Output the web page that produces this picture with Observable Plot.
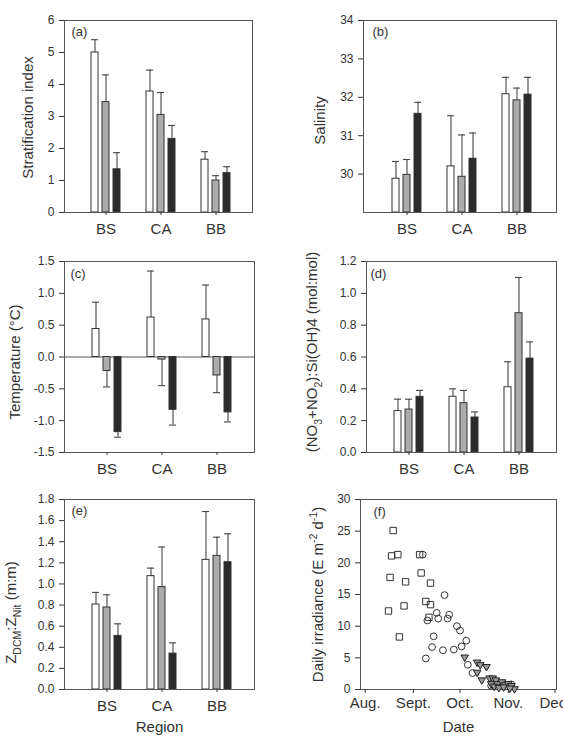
<!DOCTYPE html>
<html><head><meta charset="utf-8">
<script src="https://cdn.jsdelivr.net/npm/d3@7"></script>
<script src="https://cdn.jsdelivr.net/npm/@observablehq/plot@0.6"></script>
<style>
body{margin:0;background:#fff;}
#wrap{position:relative;width:563px;height:737px;overflow:hidden;background:#fff;}
.panel{position:absolute;}
.panel svg{overflow:visible;}
</style></head><body><div id="wrap"></div>
<script>
// ---------- data ----------
const regions = ["BS", "CA", "BB"];
const seriesKeys = ["s1", "s2", "s3"];

// region-major: BS s1,s2,s3, CA s1,s2,s3, BB s1,s2,s3
const stratMean = [5.0, 3.45, 1.35, 3.78, 3.05, 2.3, 1.65, 1.0, 1.23];
const stratSD   = [0.4, 0.85, 0.52, 0.67, 0.7, 0.42, 0.25, 0.15, 0.2];

const salMean = [29.88, 29.98, 31.57, 30.2, 29.93, 30.4, 32.08, 31.92, 32.07];
const salSD   = [0.45, 0.4, 0.3, 1.32, 1.09, 0.67, 0.44, 0.32, 0.45];

const tempMean = [0.44, -0.22, -1.18, 0.62, -0.04, -0.83, 0.59, -0.29, -0.87];
const tempSD   = [0.42, 0.25, 0.08, 0.73, 0.41, 0.24, 0.54, 0.27, 0.15];

const nsMean = [0.26, 0.27, 0.35, 0.35, 0.31, 0.22, 0.41, 0.875, 0.59];
const nsSD   = [0.075, 0.065, 0.04, 0.05, 0.08, 0.035, 0.16, 0.225, 0.105];

const zMean = [0.805, 0.777, 0.508, 1.074, 0.97, 0.34, 1.228, 1.266, 1.206];
const zSD   = [0.115, 0.12, 0.114, 0.076, 0.38, 0.102, 0.458, 0.177, 0.269];

const stratTicks = [0, 1, 2, 3, 4, 5, 6];
const salTicks = [30, 31, 32, 33, 34];
const tempTicks = [-1.5, -1.0, -0.5, 0, 0.5, 1.0, 1.5];
const nsTicks = [0, 0.2, 0.4, 0.6, 0.8, 1.0, 1.2];
const zTicks = [0, 0.2, 0.4, 0.6, 0.8, 1.0, 1.2, 1.4, 1.6, 1.8];
const irrTicks = [0, 5, 10, 15, 20, 25, 30];

// panel (f): daily irradiance
const squareDates = ["2005-08-16","2005-08-17","2005-08-18","2005-08-19","2005-08-22","2005-08-23","2005-08-26","2005-08-27","2005-09-05","2005-09-06","2005-09-09","2005-09-11","2005-09-12","2005-09-12"];
const squareIrr   = [12.4, 17.7, 21.1, 25.1, 21.3, 8.3, 13.2, 17.0, 21.3, 18.4, 13.9, 11.4, 13.4, 16.8];
const circleDates = ["2005-09-07","2005-09-10","2005-09-09","2005-09-13","2005-09-14","2005-09-16","2005-09-17","2005-09-20","2005-09-21","2005-09-23","2005-09-24","2005-09-27","2005-09-29","2005-10-01","2005-10-02","2005-10-05","2005-10-06","2005-10-09","2005-10-21","2005-10-25","2005-10-30","2005-11-03"];
const circleIrr   = [21.3, 10.9, 4.9, 6.7, 8.4, 12.1, 11.2, 6.2, 14.9, 11.2, 11.8, 6.3, 10.0, 9.3, 6.8, 7.7, 3.9, 2.6, 0.6, 0.8, 0.5, 0.8];
const triDates = ["2005-10-04","2005-10-12","2005-10-14","2005-10-18","2005-10-12","2005-10-15","2005-10-20","2005-10-22","2005-10-24","2005-10-21","2005-10-25","2005-10-28","2005-10-30","2005-11-01","2005-11-03","2005-11-05","2005-10-23","2005-10-26","2005-10-29","2005-11-02"];
const triIrr   = [5.1, 4.3, 3.9, 3.6, 2.7, 1.5, 1.8, 1.8, 1.5, 0.9, 0.9, 1.2, 0.8, 0.9, 0.6, 0.1, 0.5, 0.3, 0.4, 0.2];

const monthTicks = ["2005-08-01","2005-09-01","2005-10-01","2005-11-01","2005-12-01"];
const monthLabels = ["Aug.", "Sept.", "Oct.", "Nov.", "Dec."];

// ---------- styling ----------
const FONT = '"Liberation Sans", Arial, Helvetica, sans-serif';
const INK = "#333";
const LINE = "#555";
const barFills = ["#ffffff", "#acacac", "#2b2b2b"];

const slots = regions.flatMap((r, i) => [
  ...seriesKeys.map(s => r + "|" + s),
  ...(i < regions.length - 1 ? [r + "|gapA", r + "|gapB"] : [])
]);
const midSlots = regions.map(r => r + "|" + seriesKeys[1]);

function rows(mean, sd) {
  return mean.map((m, i) => {
    const region = regions[Math.floor(i / seriesKeys.length)];
    const series = seriesKeys[i % seriesKeys.length];
    return {region, series, slot: region + "|" + series, mean: m, end: m < 0 ? m - sd[i] : m + sd[i]};
  });
}

function richify(svg, plain, parts, fs) {
  svg.querySelectorAll("text").forEach(t => {
    if (t.textContent !== plain) return;
    while (t.firstChild) t.removeChild(t.firstChild);
    let shift = 0;
    for (const [s, kind] of parts) {
      const ts = document.createElementNS("http://www.w3.org/2000/svg", "tspan");
      const target = kind === "sub" ? fs * 0.28 : kind === "sup" ? -fs * 0.4 : 0;
      const dy = target - shift; shift = target;
      if (dy) ts.setAttribute("dy", dy.toFixed(2));
      if (kind) ts.setAttribute("font-size", (fs * 0.7).toFixed(1));
      ts.textContent = s;
      t.appendChild(ts);
    }
  });
}

function place(svg, left, top) {
  const div = document.createElement("div");
  div.className = "panel";
  div.style.left = left + "px";
  div.style.top = top + "px";
  div.appendChild(svg);
  document.getElementById("wrap").appendChild(div);
}

function barPanel(cfg) {
  const data = rows(cfg.mean, cfg.sd);
  const base = cfg.domain[0] > 0 ? cfg.domain[0] : 0;
  const marks = [];
  if (cfg.zero) marks.push(Plot.ruleY([0], {stroke: LINE, strokeWidth: 1}));
  marks.push(
    Plot.ruleX(data, {x: "slot", y1: "mean", y2: "end", stroke: "#444", strokeWidth: 1.1}),
    Plot.tickY(data, {x: "slot", y: "end", stroke: "#444", strokeWidth: 1.1}),
    Plot.barY(data, {x: "slot", y1: () => base, y2: "mean", fill: "series", stroke: "#333", strokeWidth: 1}),
    Plot.frame({stroke: LINE, strokeWidth: 1}),
    Plot.axisY({ticks: cfg.ticks, tickFormat: cfg.fmt, tickSize: 5, tickPadding: 5, fontSize: 12, label: null}),
    Plot.axisX({ticks: midSlots, tickFormat: d => d.split("|")[0], tickSize: 3, tickPadding: 8, fontSize: 15, label: null}),
    Plot.text([cfg.tag], {text: d => d, frameAnchor: "top-left", dx: cfg.tagDx, dy: cfg.tagDy, fontSize: 13, textAnchor: "start", lineAnchor: "top"}),
    Plot.text([cfg.ylabel], {text: d => d, frameAnchor: "left", rotate: -90, dx: -cfg.labelOffset, dy: cfg.labelDy || 0, fontSize: 15, textAnchor: "middle", lineAnchor: "middle"})
  );
  if (cfg.xlabel) marks.push(Plot.text([cfg.xlabel], {text: d => d, frameAnchor: "bottom", dy: cfg.xlabelDy, fontSize: 15, lineAnchor: "middle"}));
  const svg = Plot.plot({
    width: cfg.width, height: cfg.height,
    marginLeft: cfg.mL, marginRight: cfg.mR, marginTop: cfg.mT, marginBottom: cfg.mB,
    style: {fontFamily: FONT, color: INK, background: "transparent", overflow: "visible"},
    x: {type: "band", domain: slots, paddingInner: 0.38, paddingOuter: 2.0, align: 0.54, axis: null},
    y: {domain: cfg.domain, axis: null},
    color: {domain: seriesKeys, range: barFills},
    marks
  });
  if (cfg.rich) richify(svg, cfg.ylabel, cfg.rich, 15);
  place(svg, cfg.left, cfg.top);
}

const fmt1 = d => d.toFixed(1);

barPanel({left: 0, top: 0, width: 281, height: 240, mL: 64, mR: 29, mT: 20, mB: 28,
  mean: stratMean, sd: stratSD, domain: [0, 6], ticks: stratTicks, fmt: d => String(d),
  tag: "(a)", tagDx: 7, tagDy: 6, ylabel: "Stratification index", labelOffset: 36, labelDy: 1});

barPanel({left: 281, top: 0, width: 282, height: 240, mL: 82, mR: 7, mT: 20, mB: 28,
  mean: salMean, sd: salSD, domain: [29, 34], ticks: salTicks, fmt: d => String(d),
  tag: "(b)", tagDx: 9, tagDy: 6, ylabel: "Salinity", labelOffset: 43, labelDy: 4});

barPanel({left: 0, top: 240, width: 281, height: 240, mL: 64, mR: 27, mT: 21, mB: 28,
  mean: tempMean, sd: tempSD, domain: [-1.5, 1.5], ticks: tempTicks, fmt: fmt1, zero: true,
  tag: "(c)", tagDx: 6, tagDy: 7, ylabel: "Temperature (°C)", labelOffset: 49, labelDy: 5});

barPanel({left: 281, top: 240, width: 282, height: 240, mL: 85, mR: 7, mT: 21, mB: 28,
  mean: nsMean, sd: nsSD, domain: [0, 1.2], ticks: nsTicks, fmt: fmt1,
  tag: "(d)", tagDx: 4, tagDy: 7, ylabel: "(NO3+NO2):Si(OH)4 (mol:mol)", labelOffset: 54, labelDy: -5,
  rich: [["(NO"], ["3", "sub"], ["+NO"], ["2", "sub"], ["):Si(OH)4 (mol:mol)"]]});

barPanel({left: 0, top: 480, width: 281, height: 257, mL: 64, mR: 27, mT: 19, mB: 48,
  mean: zMean, sd: zSD, domain: [0, 1.8], ticks: zTicks, fmt: fmt1,
  tag: "(e)", tagDx: 7, tagDy: 6, ylabel: "ZDCM:ZNit (m:m)", labelOffset: 53, labelDy: 18,
  rich: [["Z"], ["DCM", "sub"], [":Z"], ["Nit", "sub"], [" (m:m)"]],
  xlabel: "Region", xlabelDy: 38});

// ---------- panel (f) ----------
const toRows = (dates, vals) => dates.map((d, i) => ({date: new Date(d), value: vals[i]}));
const sqRows = toRows(squareDates, squareIrr);
const ciRows = toRows(circleDates, circleIrr);
const trRows = toRows(triDates, triIrr);
const monthMap = new Map(monthTicks.map((d, i) => [new Date(d).getTime(), monthLabels[i]]));
const irrLabel = "Daily irradiance (E m-2 d-1)";

const fsvg = Plot.plot({
  width: 282, height: 257, marginLeft: 79, marginRight: 7, marginTop: 19, marginBottom: 48,
  style: {fontFamily: FONT, color: INK, background: "transparent", overflow: "visible"},
  x: {type: "utc", domain: [new Date("2005-07-29"), new Date("2005-12-02")], axis: null},
  y: {domain: [0, 30], axis: null},
  marks: [
    Plot.frame({stroke: LINE, strokeWidth: 1}),
    Plot.dot(sqRows, {x: "date", y: "value", symbol: "square", r: 3.6, stroke: "#333", strokeWidth: 1, fill: "none"}),
    Plot.dot(ciRows, {x: "date", y: "value", symbol: "circle", r: 3.4, stroke: "#333", strokeWidth: 1, fill: "none"}),
    Plot.dot(trRows, {x: "date", y: "value", symbol: "triangle", r: 2.8, rotate: 180, stroke: "#222", strokeWidth: 1, fill: "#9a9a9a"}),
    Plot.axisY({ticks: irrTicks, tickSize: 5, tickPadding: 5, fontSize: 12, label: null}),
    Plot.axisX({ticks: monthTicks.map(d => new Date(d)), tickFormat: d => monthMap.get(+d), tickSize: 4, tickPadding: 4, fontSize: 15, label: null}),
    Plot.text(["(f)"], {text: d => d, frameAnchor: "top-left", dx: 13, dy: 7, fontSize: 13, textAnchor: "start", lineAnchor: "top"}),
    Plot.text([irrLabel], {text: d => d, frameAnchor: "left", rotate: -90, dx: -42, fontSize: 15, textAnchor: "middle", lineAnchor: "middle"}),
    Plot.text(["Date"], {text: d => d, frameAnchor: "bottom", dy: 38, fontSize: 15, lineAnchor: "middle"})
  ]
});
richify(fsvg, irrLabel, [["Daily irradiance (E m"], ["-2", "sup"], [" d"], ["-1", "sup"], [")"]], 15);
place(fsvg, 281, 480);
</script></body></html>
